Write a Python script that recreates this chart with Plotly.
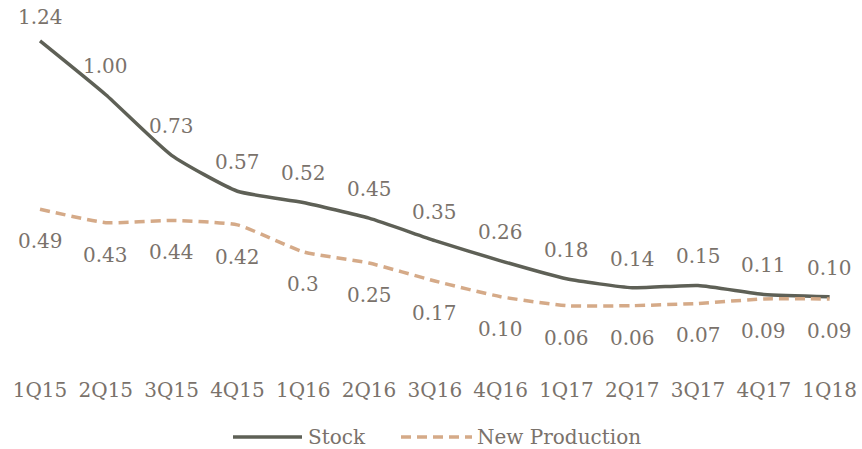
import plotly.graph_objects as go

# Quarterly series
quarters = ["1Q15", "2Q15", "3Q15", "4Q15", "1Q16", "2Q16", "3Q16",
            "4Q16", "1Q17", "2Q17", "3Q17", "4Q17", "1Q18"]
stock = [1.24, 1.00, 0.73, 0.57, 0.52, 0.45, 0.35, 0.26, 0.18, 0.14, 0.15, 0.11, 0.10]
new_production = [0.49, 0.43, 0.44, 0.42, 0.3, 0.25, 0.17, 0.10, 0.06, 0.06, 0.07, 0.09, 0.09]
stock_labels = [f"{v:.2f}" for v in stock]
new_production_labels = ["0.49", "0.43", "0.44", "0.42", "0.3", "0.25", "0.17",
                         "0.10", "0.06", "0.06", "0.07", "0.09", "0.09"]

FONT = "DejaVu Serif"
TEXT_COLOR = "#7a726b"
STOCK_COLOR = "#5e6056"
NEW_COLOR = "#d5aa88"
FSIZE = 20

fig = go.Figure()
fig.add_trace(go.Scatter(
    x=quarters, y=stock, name="Stock", mode="lines",
    line=dict(color=STOCK_COLOR, width=3.5, shape="spline", smoothing=0.5),
    showlegend=False, hoverinfo="x+y+name",
))
fig.add_trace(go.Scatter(
    x=quarters, y=new_production, name="New Production", mode="lines",
    line=dict(color=NEW_COLOR, width=3.5, dash="10px,6px", shape="spline", smoothing=0.5),
    showlegend=False, hoverinfo="x+y+name",
))

annotations = []
for i, q in enumerate(quarters):
    annotations.append(dict(
        x=q, y=stock[i], text=stock_labels[i], showarrow=False,
        yshift=24 if stock[i] == max(stock) else 29,
        font=dict(family=FONT, size=FSIZE, color=TEXT_COLOR),
    ))
    annotations.append(dict(
        x=q, y=new_production[i], text=new_production_labels[i], showarrow=False,
        yshift=-32,
        font=dict(family=FONT, size=FSIZE, color=TEXT_COLOR),
    ))

# Custom legend drawn below the axis (longer line samples than the built-in legend)
W, H = 862, 449
M_T, M_B = 5, 73
plot_h = H - M_T - M_B


def py(pix_y):
    return (H - M_B - pix_y) / plot_h


legend_y = py(437)
shapes = [
    dict(type="line", xref="paper", yref="paper", x0=233 / W, x1=302 / W,
         y0=legend_y, y1=legend_y, line=dict(color=STOCK_COLOR, width=3.5)),
    dict(type="line", xref="paper", yref="paper", x0=401 / W, x1=472 / W,
         y0=legend_y, y1=legend_y, line=dict(color=NEW_COLOR, width=3.5, dash="10px,6px")),
]
annotations.append(dict(xref="paper", yref="paper", x=306 / W, y=legend_y, xanchor="left",
                        yanchor="middle", text=fig.data[0].name, showarrow=False,
                        font=dict(family=FONT, size=FSIZE, color=TEXT_COLOR)))
annotations.append(dict(xref="paper", yref="paper", x=475 / W, y=legend_y, xanchor="left",
                        yanchor="middle", text=fig.data[1].name, showarrow=False,
                        font=dict(family=FONT, size=FSIZE, color=TEXT_COLOR)))

fig.update_layout(
    width=W, height=H,
    margin=dict(l=0, r=0, t=M_T, b=M_B),
    paper_bgcolor="white", plot_bgcolor="white",
    font=dict(family=FONT, size=FSIZE, color=TEXT_COLOR),
    xaxis=dict(type="category", range=[-0.608, 12.492], showgrid=False, zeroline=False,
               showline=False, ticks="", tickfont=dict(family=FONT, size=FSIZE, color=TEXT_COLOR)),
    yaxis=dict(range=[-0.2534, 1.4], visible=False, fixedrange=True),
    showlegend=False,
    annotations=annotations,
    shapes=shapes,
)

fig.write_html("out.html")
